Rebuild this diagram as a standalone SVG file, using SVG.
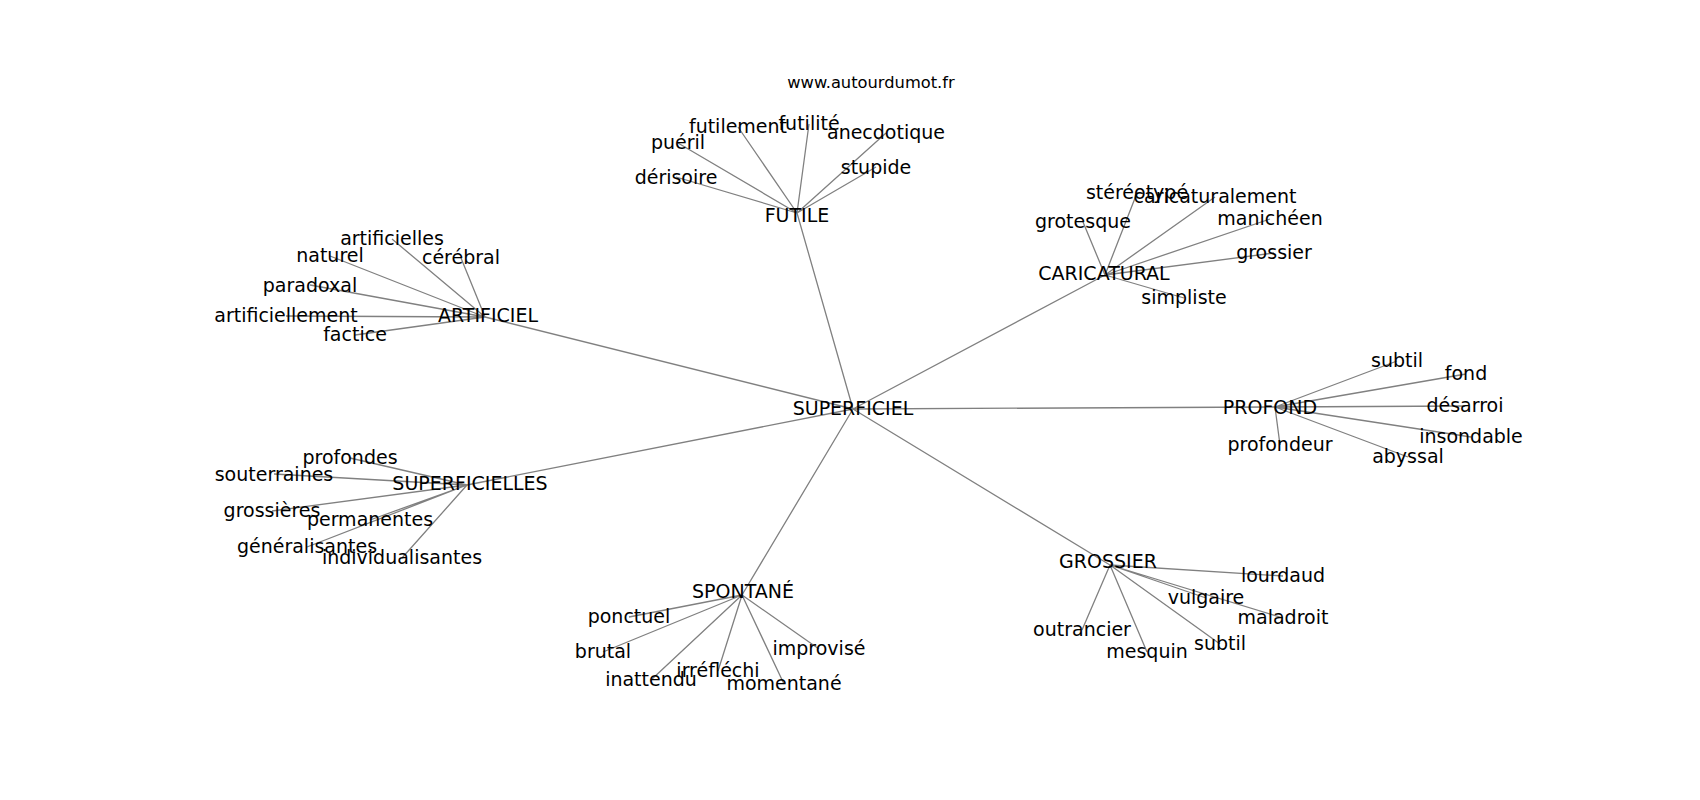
<svg xmlns="http://www.w3.org/2000/svg" width="1700" height="800" viewBox="0 0 1700 800">
<style>
.e{stroke:#808080;stroke-width:1.3;fill:none}
text{font-family:"DejaVu Sans",sans-serif;font-size:19px;fill:#000;text-anchor:middle}
.t{font-size:16.3px}
</style>
<rect width="1700" height="800" fill="#fff"/>
<g id="connectors">
<path class="e" d="M853 409L797 213M853 409L1105 275M853 409L485 317M853 409L467 485M853 409L742 595M853 409L1110 565M853 409L1275 407"/>
<path class="e" d="M797 213L676 177M797 213L678 143M797 213L738 127M797 213L809 124M797 213L886 133M797 213L876 167"/>
<path class="e" d="M1105 275L1083 222M1105 275L1137 193M1105 275L1215 197M1105 275L1270 219M1105 275L1274 253M1105 275L1184 298"/>
<path class="e" d="M485 317L392 239M485 317L330 256M485 317L461 258M485 317L310 285M485 317L286 316M485 317L355 335"/>
<path class="e" d="M467 485L350 458M467 485L274 474M467 485L272 511M467 485L370 520M467 485L307 547M467 485L402 558"/>
<path class="e" d="M742 595L629 617M742 595L603 652M742 595L651 680M742 595L718 671M742 595L784 684M742 595L819 649"/>
<path class="e" d="M1110 565L1283 576M1110 565L1206 598M1110 565L1283 618M1110 565L1082 630M1110 565L1147 652M1110 565L1220 644"/>
<path class="e" d="M1275 407L1397 361M1275 407L1466 374M1275 407L1465 406M1275 407L1471 437M1275 407L1408 457M1275 407L1280 445"/>
</g>
<text class="t" x="871" y="88">www.autourdumot.fr</text>
<g id="n-superficiel"><text x="853" y="415">SUPERFICIEL</text></g>
<g id="n-futile"><text x="797" y="222">FUTILE</text></g>
<g id="n-derisoire"><text x="676" y="184">dérisoire</text></g>
<g id="n-pueril"><text x="678" y="149">puéril</text></g>
<g id="n-futilement"><text x="738" y="133">futilement</text></g>
<g id="n-futilite"><text x="809" y="130">futilité</text></g>
<g id="n-anecdotique"><text x="886" y="139">anecdotique</text></g>
<g id="n-stupide"><text x="876" y="174">stupide</text></g>
<g id="n-caricatural"><text x="1104" y="280">CARICATURAL</text></g>
<g id="n-grotesque"><text x="1083" y="228">grotesque</text></g>
<g id="n-stereotype"><text x="1137" y="199">stéréotypé</text></g>
<g id="n-caricaturalement"><text x="1215" y="203">caricaturalement</text></g>
<g id="n-manicheen"><text x="1270" y="225">manichéen</text></g>
<g id="n-grossier2"><text x="1274" y="259">grossier</text></g>
<g id="n-simpliste"><text x="1184" y="304">simpliste</text></g>
<g id="n-artificiel"><text x="488" y="322">ARTIFICIEL</text></g>
<g id="n-artificielles"><text x="392" y="245">artificielles</text></g>
<g id="n-naturel"><text x="330" y="262">naturel</text></g>
<g id="n-cerebral"><text x="461" y="264">cérébral</text></g>
<g id="n-paradoxal"><text x="310" y="292">paradoxal</text></g>
<g id="n-artificiellement"><text x="286" y="322">artificiellement</text></g>
<g id="n-factice"><text x="355" y="341">factice</text></g>
<g id="n-superficielles"><text x="470" y="490">SUPERFICIELLES</text></g>
<g id="n-profondes"><text x="350" y="464">profondes</text></g>
<g id="n-souterraines"><text x="274" y="481">souterraines</text></g>
<g id="n-grossieres"><text x="272" y="517">grossières</text></g>
<g id="n-permanentes"><text x="370" y="526">permanentes</text></g>
<g id="n-generalisantes"><text x="307" y="553">généralisantes</text></g>
<g id="n-individualisantes"><text x="402" y="564">individualisantes</text></g>
<g id="n-spontane"><text x="743" y="598">SPONTANÉ</text></g>
<g id="n-ponctuel"><text x="629" y="623">ponctuel</text></g>
<g id="n-brutal"><text x="603" y="658">brutal</text></g>
<g id="n-inattendu"><text x="651" y="686">inattendu</text></g>
<g id="n-irreflechi"><text x="718" y="677">irréfléchi</text></g>
<g id="n-momentane"><text x="784" y="690">momentané</text></g>
<g id="n-improvise"><text x="819" y="655">improvisé</text></g>
<g id="n-grossier"><text x="1108" y="568">GROSSIER</text></g>
<g id="n-lourdaud"><text x="1283" y="582">lourdaud</text></g>
<g id="n-vulgaire"><text x="1206" y="604">vulgaire</text></g>
<g id="n-maladroit"><text x="1283" y="624">maladroit</text></g>
<g id="n-outrancier"><text x="1082" y="636">outrancier</text></g>
<g id="n-mesquin"><text x="1147" y="658">mesquin</text></g>
<g id="n-subtil-g"><text x="1220" y="650">subtil</text></g>
<g id="n-profond"><text x="1270" y="414">PROFOND</text></g>
<g id="n-subtil-p"><text x="1397" y="367">subtil</text></g>
<g id="n-fond"><text x="1466" y="380">fond</text></g>
<g id="n-desarroi"><text x="1465" y="412">désarroi</text></g>
<g id="n-insondable"><text x="1471" y="443">insondable</text></g>
<g id="n-abyssal"><text x="1408" y="463">abyssal</text></g>
<g id="n-profondeur"><text x="1280" y="451">profondeur</text></g>
</svg>
